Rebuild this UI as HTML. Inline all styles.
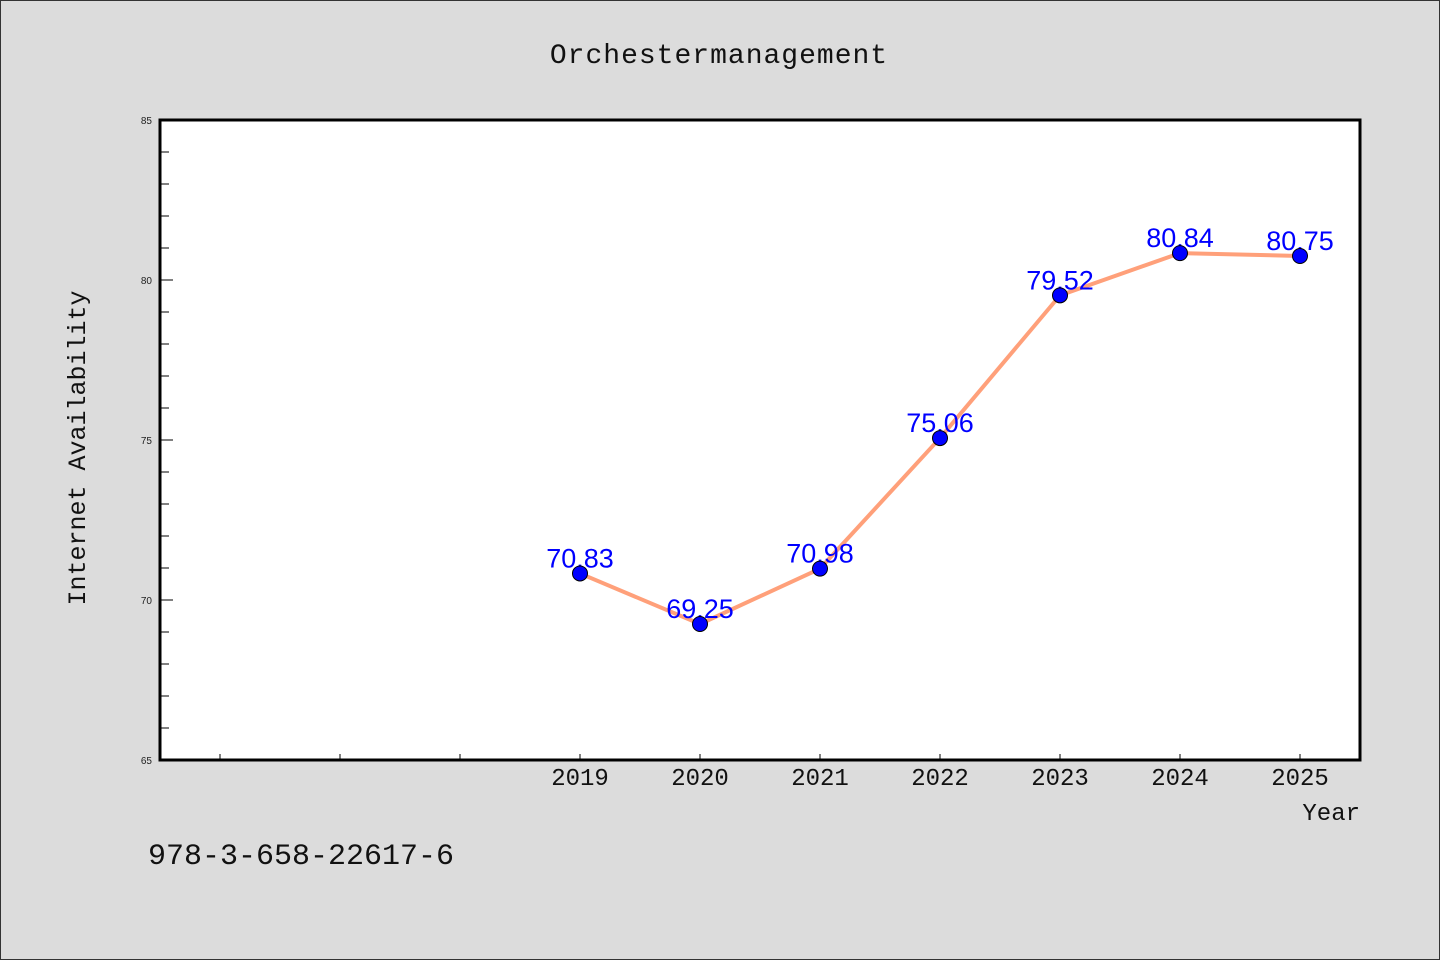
<!DOCTYPE html>
<html><head><meta charset="utf-8"><style>
html,body{margin:0;padding:0;}
body{width:1440px;height:960px;overflow:hidden;background:#dcdcdc;}
svg{display:block;}
</style></head><body>
<svg id="chart" width="1440" height="960" xmlns="http://www.w3.org/2000/svg">
<rect x="0.5" y="0.5" width="1439" height="959" fill="#dcdcdc" stroke="#333" stroke-width="1"/>
<text x="719" y="63" text-anchor="middle" font-family="Liberation Mono, DejaVu Sans Mono, monospace" font-size="28" letter-spacing="1" fill="#111">Orchestermanagement</text>
<rect x="160" y="120" width="1200" height="640" fill="#fff" stroke="#000" stroke-width="3"/>
<g id="yticks"></g>
<g id="xticks"></g>
<g id="series"></g>
<text transform="translate(85,448) rotate(-90)" text-anchor="middle" font-family="Liberation Mono, DejaVu Sans Mono, monospace" font-size="25" fill="#111">Internet Availability</text>
<text x="1360" y="820" text-anchor="end" font-family="Liberation Mono, DejaVu Sans Mono, monospace" font-size="24" fill="#111">Year</text>
<text x="148" y="864" font-family="Liberation Mono, DejaVu Sans Mono, monospace" font-size="30" fill="#111">978-3-658-22617-6</text>
</svg>
<script>
const years = [2019, 2020, 2021, 2022, 2023, 2024, 2025];
const values = [70.83, 69.25, 70.98, 75.06, 79.52, 80.84, 80.75];
const valueLabels = ["70.83", "69.25", "70.98", "75.06", "79.52", "80.84", "80.75"];
const yTickLabels = [65, 70, 75, 80, 85];
const xMinorTicks = [2016, 2017, 2018];

const NS = "http://www.w3.org/2000/svg";
const X0 = 160, X1 = 1360, Y0 = 760, Y1 = 120;
const xMin = 2015.5, xMax = 2025.5, yMin = 65, yMax = 85;
function xs(v){ return X0 + (v - xMin) / (xMax - xMin) * (X1 - X0); }
function ys(v){ return Y0 - (v - yMin) / (yMax - yMin) * (Y0 - Y1); }
function mk(tag, attrs, parent){
  const e = document.createElementNS(NS, tag);
  for (const k in attrs) e.setAttribute(k, attrs[k]);
  parent.appendChild(e); return e;
}
const yt = document.getElementById('yticks');
for (let v = yMin + 1; v < yMax; v++) {
  const major = (v % 5 === 0);
  const t = mk('line', {x1: X0, x2: X0 + (major ? 13 : 9), y1: ys(v), y2: ys(v), stroke: '#000', 'stroke-width': 1}, yt);
  
  
}
yTickLabels.forEach(v => {
  const t = mk('text', {x: 152, y: ys(v) + 4, 'text-anchor': 'end', 'font-family': 'Liberation Sans, sans-serif', 'font-size': 10, fill: '#222'}, yt);
  t.textContent = v;
  
  
});
const xt = document.getElementById('xticks');
xMinorTicks.concat(years).forEach(v => {
  const t = mk('line', {x1: xs(v), x2: xs(v), y1: Y0, y2: Y0 - 6, stroke: '#000', 'stroke-width': 1}, xt);
  
  
});
years.forEach(v => {
  const t = mk('text', {x: xs(v), y: 785, 'text-anchor': 'middle', 'font-family': 'Liberation Mono, DejaVu Sans Mono, monospace', 'font-size': 24, fill: '#111'}, xt);
  t.textContent = v;
  
  
});
const s = document.getElementById('series');
const pts = years.map((y, i) => xs(y) + ',' + ys(values[i])).join(' ');
const line = mk('polyline', {points: pts, fill: 'none', stroke: '#ffa07a', 'stroke-width': 4, 'stroke-linejoin': 'round'}, s);


years.forEach((y, i) => {
  const t = mk('text', {x: xs(y), y: ys(values[i]) - 6, 'text-anchor': 'middle', 'font-family': 'Liberation Sans, sans-serif', 'font-size': 27, fill: '#0000ff'}, s);
  t.textContent = valueLabels[i];
  
  
});
years.forEach((y, i) => {
  const c = mk('circle', {cx: xs(y), cy: ys(values[i]), r: 7.5, fill: '#0000ff', stroke: '#000', 'stroke-width': 1}, s);
  
  
});
</script>
</body></html>
